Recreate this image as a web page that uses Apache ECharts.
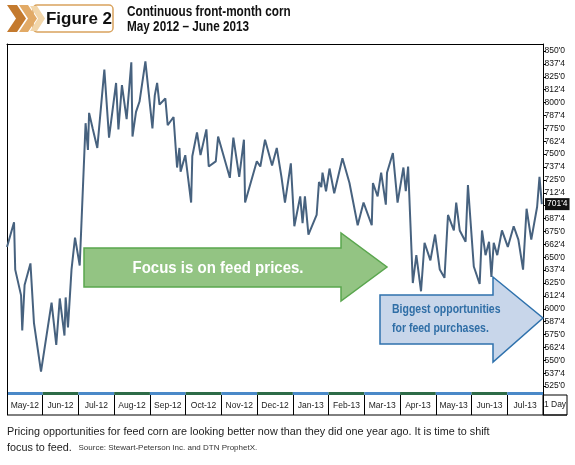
<!DOCTYPE html>
<html>
<head>
<meta charset="utf-8">
<script src="https://cdn.jsdelivr.net/npm/echarts@6/dist/echarts.min.js"></script>
<style>
html, body { margin: 0; padding: 0; background: #fff; }
#chart { width: 575px; height: 465px; }
</style>
</head>
<body>
<div id="chart"></div>
<script>
// front-month corn, cents/bu
var dates = [
  '2012-05-01','2012-05-07','2012-05-08','2012-05-13','2012-05-14','2012-05-16','2012-05-21','2012-05-24','2012-05-30',
  '2012-06-08','2012-06-12','2012-06-15','2012-06-19','2012-06-20','2012-06-22','2012-06-25','2012-06-28',
  '2012-07-02','2012-07-07','2012-07-09','2012-07-10','2012-07-13','2012-07-17','2012-07-23','2012-07-27',
  '2012-08-02','2012-08-04','2012-08-07','2012-08-11','2012-08-15','2012-08-16','2012-08-19','2012-08-22','2012-08-27',
  '2012-09-02','2012-09-04','2012-09-06','2012-09-08','2012-09-13','2012-09-15','2012-09-20','2012-09-23','2012-09-25','2012-09-26','2012-09-30',
  '2012-10-05','2012-10-06','2012-10-10','2012-10-13','2012-10-18','2012-10-20','2012-10-26','2012-10-28',
  '2012-11-07','2012-11-10','2012-11-15','2012-11-19','2012-11-20','2012-11-30',
  '2012-12-03','2012-12-07','2012-12-13','2012-12-17','2012-12-21','2012-12-24','2012-12-29',
  '2013-01-01','2013-01-06','2013-01-08','2013-01-10','2013-01-13','2013-01-20','2013-01-22','2013-01-24','2013-01-25','2013-01-28','2013-01-31',
  '2013-02-04','2013-02-11','2013-02-17','2013-02-24',
  '2013-03-01','2013-03-08','2013-03-09','2013-03-13','2013-03-16','2013-03-20','2013-03-21','2013-03-26','2013-03-30',
  '2013-04-04','2013-04-06','2013-04-08','2013-04-12','2013-04-15','2013-04-19','2013-04-22','2013-04-27',
  '2013-05-01','2013-05-05','2013-05-09','2013-05-12','2013-05-17','2013-05-19','2013-05-22','2013-05-27','2013-05-29',
  '2013-06-03','2013-06-08','2013-06-10','2013-06-13','2013-06-16','2013-06-18','2013-06-20','2013-06-23','2013-06-27',
  '2013-07-02','2013-07-07','2013-07-11','2013-07-15','2013-07-18','2013-07-22','2013-07-27','2013-07-29','2013-07-31'
];
var prices = [
  660, 684, 638, 613, 579, 623, 644, 586, 539,
  606, 565, 610, 574, 611, 582, 638, 669,
  642, 780, 754, 790, 775, 756, 832, 766,
  819, 774, 817, 784, 839, 767, 791, 801, 840,
  775, 807, 819, 798, 804, 778, 786, 737, 756, 733, 749,
  703, 748, 771, 749, 774, 738, 743, 767,
  727, 766, 728, 764, 703, 743,
  738, 764, 739, 756, 728, 703, 741,
  680, 709, 683, 709, 672, 691, 723, 718, 732, 714, 736,
  712, 746, 722, 681,
  703, 681, 722, 709, 732, 701, 732, 751, 703,
  737, 714, 738, 625, 652, 617, 664, 647,
  672, 638, 630, 691, 676, 703, 676, 665, 720,
  641, 624, 676, 652, 665, 631, 664, 652, 676,
  660, 680, 667, 638, 697, 667, 699, 728, 701.5
];
var months = ['May-12', 'Jun-12', 'Jul-12', 'Aug-12', 'Sep-12', 'Oct-12', 'Nov-12', 'Dec-12',
  'Jan-13', 'Feb-13', 'Mar-13', 'Apr-13', 'May-13', 'Jun-13', 'Jul-13'];
var lastPrice = prices[prices.length - 1];

var sans = "'Liberation Sans', Arial, sans-serif";

// 701.5 -> 701'4 (eighths of a cent)
function eighths(v) {
  var whole = Math.floor(v + 1e-6);
  var frac = Math.round((v - whole) * 8);
  return whole + "'" + frac;
}

var chart = echarts.init(document.getElementById('chart'));

var option = {
  animation: false,
  backgroundColor: '#fff',
  grid: [
    { left: 7, right: 32, top: 44, height: 355 },
    { left: 7, right: 32, top: 392, height: 3 }
  ],
  xAxis: [
    {
      type: 'time', gridIndex: 0, position: 'top',
      min: '2012-05-01', max: '2013-08-01',
      axisLine: { show: true, lineStyle: { color: '#000', width: 1 } },
      axisTick: { show: false }, axisLabel: { show: false }, splitLine: { show: false }
    },
    {
      type: 'category', gridIndex: 1, data: months, boundaryGap: true,
      axisLine: { show: false },
      axisTick: { show: true, interval: 0, length: 20, lineStyle: { color: '#000', width: 1 } },
      axisLabel: { interval: 0, margin: 6, fontSize: 8.5, color: '#222', fontFamily: sans },
      splitLine: { show: false },
      splitArea: { show: true, interval: 0, areaStyle: { color: ['#4a89c8', '#2d6b47'] } }
    }
  ],
  yAxis: [
    {
      type: 'value', gridIndex: 0, position: 'right',
      min: 512.5, max: 856.8, interval: 12.5,
      axisLine: { show: true, lineStyle: { color: '#000', width: 1 } },
      axisTick: { show: true, length: 3, lineStyle: { color: '#000' } },
      axisLabel: {
        margin: 1.5, fontSize: 8.5, color: '#111', fontFamily: sans,
        showMinLabel: false, showMaxLabel: false,
        formatter: function (v) {
          if (Math.abs(v - lastPrice) < 6) return '';
          return eighths(v);
        }
      },
      splitLine: { show: false }
    },
    {
      type: 'value', gridIndex: 0, position: 'left',
      min: 512.5, max: 856.8,
      axisLine: { show: true, lineStyle: { color: '#000', width: 1 } },
      axisTick: { show: false }, axisLabel: { show: false }, splitLine: { show: false }
    },
    {
      type: 'value', gridIndex: 1,
      axisLine: { show: false }, axisTick: { show: false }, axisLabel: { show: false }, splitLine: { show: false }
    }
  ],
  series: [{
    type: 'line',
    xAxisIndex: 0, yAxisIndex: 0,
    data: dates.map(function (d, i) { return [d, prices[i]]; }),
    showSymbol: false,
    lineStyle: { color: '#47627f', width: 2 },
    markLine: {
      silent: true, symbol: 'none',
      lineStyle: { color: 'rgba(0,0,0,0)', width: 0 },
      label: {
        show: true, position: 'end', distance: 2,
        formatter: function () { return eighths(lastPrice); },
        color: '#fff', backgroundColor: '#111', padding: [2, 2, 1, 2],
        fontSize: 8.5, fontFamily: sans
      },
      data: [{ yAxis: lastPrice }]
    }
  }],
  graphic: [
    // header badge
    { type: 'rect', shape: { x: 33, y: 5, width: 80, height: 27, r: 4 }, style: { fill: '#fff', stroke: '#d9a35e', lineWidth: 1.5 } },
    { type: 'polygon', shape: { points: [[7, 5], [17, 5], [26, 18.5], [17, 32], [7, 32], [16, 18.5]] }, style: { fill: '#c47a2e' } },
    { type: 'polygon', shape: { points: [[19, 5], [28, 5], [37, 18.5], [28, 32], [19, 32], [28, 18.5]] }, style: { fill: '#e2aa66' } },
    { type: 'polygon', shape: { points: [[30, 6], [37, 6], [45, 18.5], [37, 31], [30, 31], [38, 18.5]] }, style: { fill: '#f2d6aa' } },
    { type: 'text', style: { text: 'Figure 2', x: 79, y: 19, textAlign: 'center', textVerticalAlign: 'middle', fontSize: 17, fontWeight: 'bold', fontFamily: sans, fill: '#111' } },
    { type: 'text', x: 127, y: 12, scaleX: 0.81, style: { text: 'Continuous front-month corn', x: 0, y: 0, textVerticalAlign: 'middle', fontSize: 14.5, fontWeight: 'bold', fontFamily: sans, fill: '#111' } },
    { type: 'text', x: 127, y: 27, scaleX: 0.81, style: { text: 'May 2012 \u2013 June 2013', x: 0, y: 0, textVerticalAlign: 'middle', fontSize: 14.5, fontWeight: 'bold', fontFamily: sans, fill: '#111' } },
    // "1 Day" box and bottom rule
    { type: 'rect', shape: { x: 543, y: 395, width: 24, height: 20 }, style: { fill: 'none', stroke: '#000', lineWidth: 1 } },
    { type: 'line', shape: { x1: 7, y1: 415, x2: 567, y2: 415 }, style: { stroke: '#000', lineWidth: 1 } },
    { type: 'text', style: { text: '1 Day', x: 555, y: 405, textAlign: 'center', textVerticalAlign: 'middle', fontSize: 8.5, fontFamily: sans, fill: '#222' } },
    // annotation arrows
    { type: 'polygon', z: 10, shape: { points: [[84, 248], [341, 248], [341, 233], [387, 267], [341, 301], [341, 287], [84, 287]] }, style: { fill: '#93c483', stroke: '#5aa64e', lineWidth: 1.5 } },
    { type: 'text', z: 11, x: 218, y: 268, scaleX: 0.91, style: { text: 'Focus is on feed prices.', x: 0, y: 0, textAlign: 'center', textVerticalAlign: 'middle', fontSize: 16.5, fontWeight: 'bold', fontFamily: sans, fill: '#fff' } },
    { type: 'polygon', z: 10, shape: { points: [[380, 295], [493, 295], [493, 277], [543, 318], [493, 362], [493, 344], [380, 344]] }, style: { fill: '#c8d6ea', stroke: '#2f72ad', lineWidth: 1.5 } },
    { type: 'text', z: 11, x: 392, y: 310, scaleX: 0.84, style: { text: 'Biggest opportunities', x: 0, y: 0, textVerticalAlign: 'middle', fontSize: 12.5, fontWeight: 'bold', fontFamily: sans, fill: '#2f6ea6' } },
    { type: 'text', z: 11, x: 392, y: 329, scaleX: 0.84, style: { text: 'for feed purchases.', x: 0, y: 0, textVerticalAlign: 'middle', fontSize: 12.5, fontWeight: 'bold', fontFamily: sans, fill: '#2f6ea6' } },
    // caption
    { type: 'text', style: { text: 'Pricing opportunities for feed corn are looking better now than they did one year ago. It is time to shift', x: 7, y: 432, textVerticalAlign: 'middle', fontSize: 10.8, fontFamily: sans, fill: '#222' } },
    { type: 'text', style: {
        text: '{a|focus to feed.}  {b|Source: Stewart-Peterson Inc. and DTN ProphetX.}', x: 7, y: 448, textVerticalAlign: 'middle',
        rich: {
          a: { fontSize: 10.8, fontFamily: sans, fill: '#222', color: '#222' },
          b: { fontSize: 8, fontFamily: sans, fill: '#333', color: '#333' }
        }
    } }
  ]
};

chart.setOption(option);
</script>
</body>
</html>
